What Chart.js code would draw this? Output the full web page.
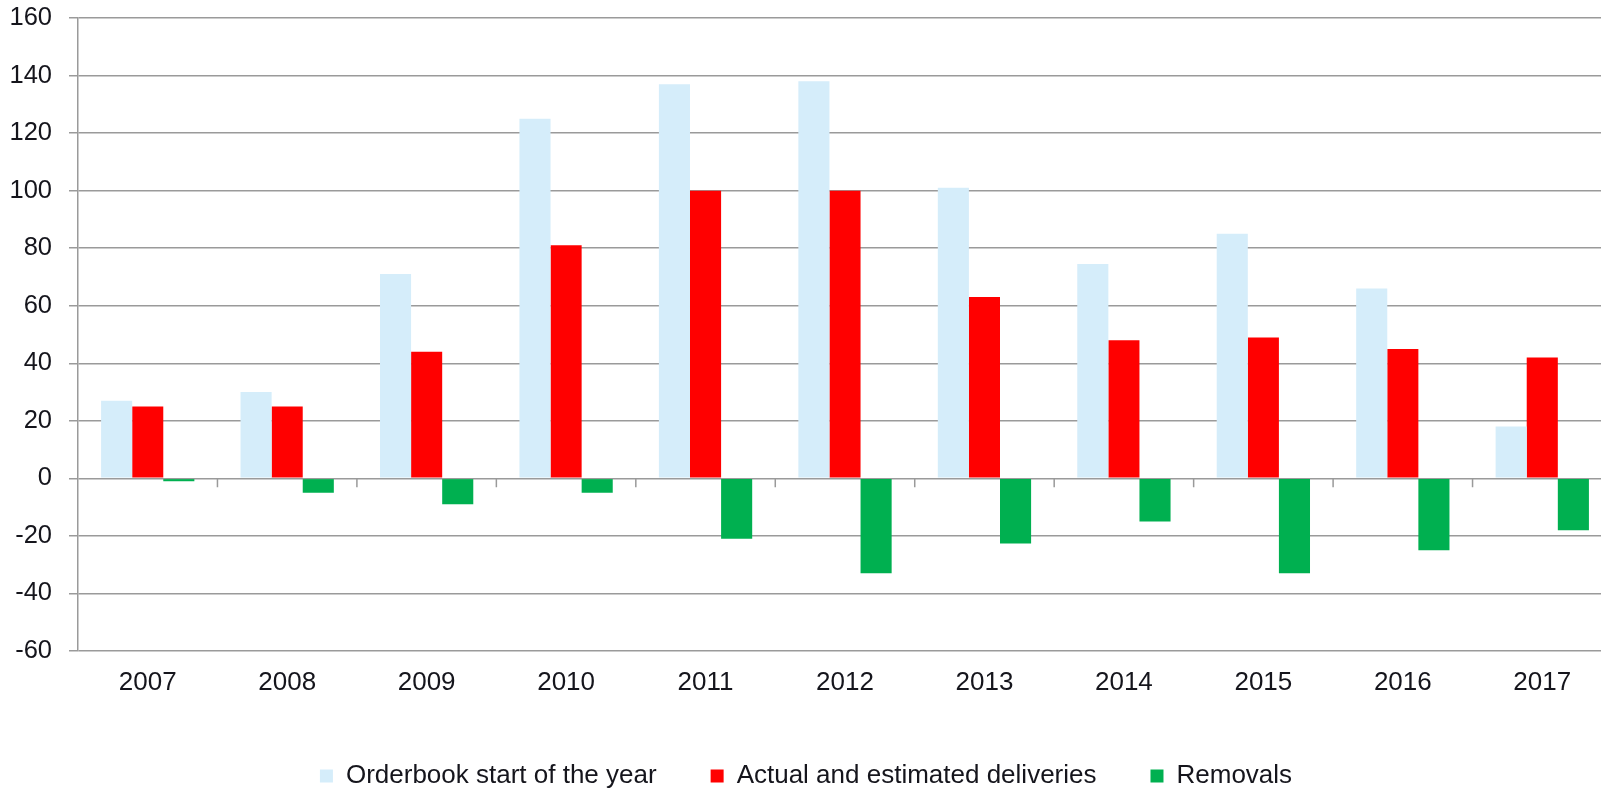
<!DOCTYPE html>
<html>
<head>
<meta charset="utf-8">
<title>Orderbook, deliveries and removals</title>
<script src="https://cdn.jsdelivr.net/npm/chart.js@4"></script>
<style>
  html, body { margin: 0; padding: 0; background: #fff; overflow: hidden; }
  #wrap { position: relative; width: 1612px; height: 800px; }
</style>
</head>
<body>
<div id="wrap"><canvas id="fleet"></canvas></div>
<script>
const years = ['2007', '2008', '2009', '2010', '2011', '2012', '2013', '2014', '2015', '2016', '2017'];
const orderbook = [27, 30, 71, 125, 137, 138, 101, 74.5, 85, 66, 18];
const deliveries = [25, 25, 44, 81, 100, 100, 63, 48, 49, 45, 42];
const removals = [-1, -5, -9, -5, -21, -33, -22.6, -15, -33, -25, -18];
const yTicks = { min: -60, max: 160, step: 20 };

const gridGrey = '#9a9a9a';
const textColor = '#15151c';
const fontFamily = '"Liberation Sans", Arial, sans-serif';

// small tick marks on the zero line between the year groups
const zeroTicks = {
  id: 'zeroTicks',
  afterDatasetsDraw(chart) {
    const xs = chart.scales.x;
    const ys = chart.scales.y;
    const y0 = ys.getPixelForValue(0);
    const half = (xs.getPixelForValue(1) - xs.getPixelForValue(0)) / 2;
    const ctx = chart.ctx;
    ctx.save();
    ctx.strokeStyle = gridGrey;
    ctx.lineWidth = 1.5;
    ctx.beginPath();
    for (let i = 1; i <= years.length; i++) {
      const px = xs.getPixelForValue(i) - half;
      ctx.moveTo(px, y0);
      ctx.lineTo(px, y0 + 9);
    }
    ctx.stroke();
    ctx.restore();
  }
};

new Chart(document.getElementById('fleet'), {
  type: 'bar',
  data: {
    labels: years,
    datasets: [
      { label: 'Orderbook start of the year', data: orderbook, backgroundColor: '#d5edfa' },
      { label: 'Actual and estimated deliveries', data: deliveries, backgroundColor: '#ff0000' },
      { label: 'Removals', data: removals, backgroundColor: '#00b050' }
    ]
  },
  options: {
    responsive: true,
    maintainAspectRatio: false,
    animation: false,
    datasets: {
      bar: { categoryPercentage: 0.669, barPercentage: 1 }
    },
    layout: { padding: { top: 0, left: 0, right: 0, bottom: 1 } },
    plugins: {
      tooltip: { enabled: false },
      legend: {
        position: 'bottom',
        labels: {
          boxWidth: 13,
          boxHeight: 13,
          padding: 54,
          color: textColor,
          font: { family: fontFamily, size: 26 }
        }
      }
    },
    scales: {
      x: {
        grid: { display: false, drawTicks: false },
        border: { display: false },
        ticks: {
          padding: 16,
          color: textColor,
          font: { family: fontFamily, size: 26 }
        },
        afterFit(scale) { scale.height = 58; }
      },
      y: {
        min: yTicks.min,
        max: yTicks.max,
        grid: { color: gridGrey, lineWidth: 1.5, tickLength: 9 },
        border: { color: gridGrey, width: 1.5 },
        ticks: {
          stepSize: yTicks.step,
          padding: 17,
          color: textColor,
          font: { family: fontFamily, size: 25.5 }
        },
        afterFit(scale) {
          scale.width = 78;
          scale.paddingTop = 18;
          scale.paddingBottom = 0;
        }
      }
    }
  },
  plugins: [zeroTicks]
});
</script>
</body>
</html>
